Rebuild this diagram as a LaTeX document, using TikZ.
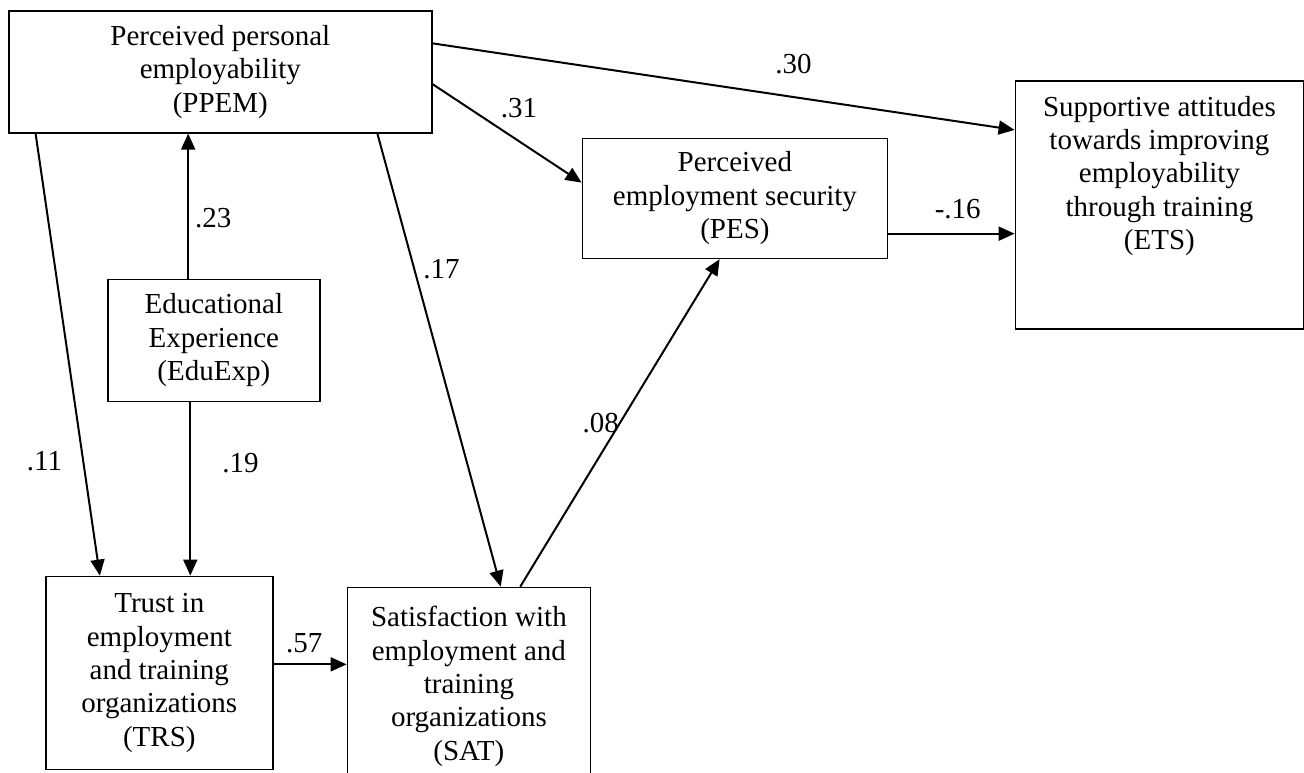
\documentclass[tikz,border=0pt]{standalone}
\usepackage{fontspec}
\setmainfont{Liberation Serif}
\usetikzlibrary{positioning,calc,arrows.meta}

\begin{document}
\begin{tikzpicture}[x=0.5pt, y=-0.5pt, font=\fontsize{14.5pt}{16.7pt}\selectfont,
        block/.style={draw, line width=0.8pt, align=center, inner sep=2pt},
        link/.style={-{Triangle[length=8pt, width=7pt]}, line width=1pt},
        coef/.style={inner sep=2pt}]
    \useasboundingbox (0,0) rectangle (1304,772);
    \node[block, anchor=north west, minimum width=211.5pt, minimum height=61pt] (PPEM) at (8,10)
        {Perceived personal\\employability\\(PPEM)};
    \node[block, below right=2pt and 74.5pt of PPEM.south east, minimum width=152.5pt, minimum height=60pt] (PES)
        {Perceived\\employment security\\(PES)};
    \node[block, below right=35pt and 291pt of PPEM.north east, minimum width=144pt, minimum height=124pt] (ETS) {};
    \node[below=4.5pt of ETS.north, align=center] (ETSlbl)
        {Supportive attitudes\\towards improving\\employability\\through training\\(ETS)};
    \node[block, below right=72.5pt and 49.5pt of PPEM.south west, minimum width=106pt, minimum height=61pt] (Edu)
        {Educational\\Experience\\(EduExp)};
    \node[block, below right=221pt and 18.5pt of PPEM.south west, minimum width=113.5pt, minimum height=96.5pt] (TRS)
        {Trust in\\employment\\and training\\organizations\\(TRS)};
    \node[block, below right=5.5pt and 36.5pt of TRS.north east, minimum width=121.5pt, minimum height=99pt] (SAT)
        {Satisfaction with\\employment and\\training\\organizations\\(SAT)};
    \coordinate (pe) at ($(PES.north east)!0.79!(PES.south east)$);
    \coordinate (eu) at ($(Edu.north west)!0.38!(Edu.north east)$);
    \coordinate (ed) at ($(Edu.south west)!0.39!(Edu.south east)$);
    \coordinate (tr) at ($(TRS.north east)!0.456!(TRS.south east)$);
    \draw[link] ($(PPEM.north east)!0.27!(PPEM.south east)$) -- node[coef, pos=0.62, above=9pt] {.30} ($(ETS.north west)!0.2!(ETS.south west)$);
    \draw[link] ($(PPEM.north east)!0.6!(PPEM.south east)$) -- node[coef, pos=0.58, above=9pt] {.31} ($(PES.north west)!0.37!(PES.south west)$);
    \draw[link] (pe) -- node[coef, pos=0.55, above=5pt] {-.16} (pe -| ETS.west);
    \draw[link] (eu) -- node[coef, pos=0.42, right=1pt] {.23} (eu |- PPEM.south);
    \draw[link] (ed) -- node[coef, pos=0.35, right=13.5pt] {.19} (ed |- TRS.north);
    \draw[link] ($(PPEM.south west)!0.065!(PPEM.south east)$) -- node[coef, pos=0.74, left=8pt] {.11} ($(TRS.north west)!0.24!(TRS.north east)$);
    \draw[link] ($(PPEM.south west)!0.87!(PPEM.south east)$) -- node[coef, pos=0.3, right=2pt] {.17} ($(SAT.north west)!0.63!(SAT.north east)$);
    \draw[link] ($(SAT.north west)!0.71!(SAT.north east)$) -- node[coef, pos=0.5, left=-2pt] {.08} ($(PES.south west)!0.45!(PES.south east)$);
    \draw[link] (tr) -- node[coef, pos=0.42, above=3pt] {.57} (tr -| SAT.west);
\end{tikzpicture}
\end{document}
